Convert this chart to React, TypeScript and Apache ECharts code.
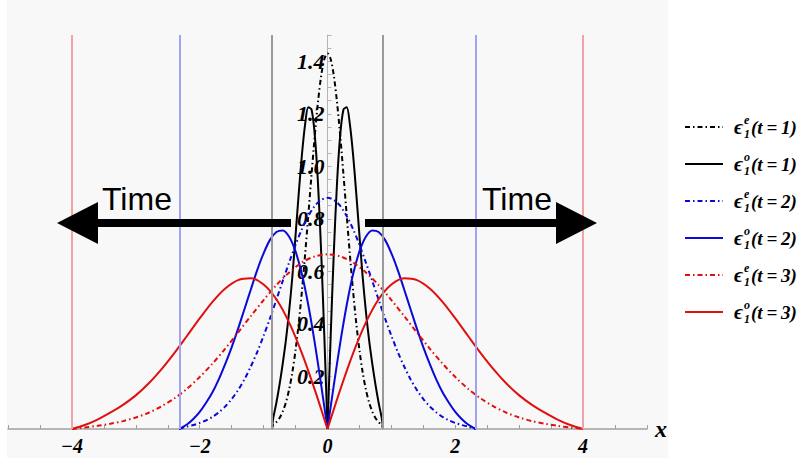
import { useEffect, useRef } from 'react';
import * as echarts from 'echarts';

// x grids (data units)
const xBlack = [-0.87, -0.85, -0.8, -0.75, -0.7, -0.65, -0.6, -0.55, -0.5, -0.45, -0.4, -0.35, -0.3, -0.25, -0.2, -0.15, -0.1, -0.05, 0, 0.05, 0.1, 0.15, 0.2, 0.25, 0.3, 0.35, 0.4, 0.45, 0.5, 0.55, 0.6, 0.65, 0.7, 0.75, 0.8, 0.85, 0.87];
const xBlue = [-2.32, -2.2, -2.1, -2, -1.9, -1.8, -1.7, -1.6, -1.5, -1.4, -1.3, -1.2, -1.1, -1, -0.9, -0.8, -0.7, -0.6, -0.5, -0.4, -0.3, -0.2, -0.1, 0, 0.1, 0.2, 0.3, 0.4, 0.5, 0.6, 0.7, 0.8, 0.9, 1, 1.1, 1.2, 1.3, 1.4, 1.5, 1.6, 1.7, 1.8, 1.9, 2, 2.1, 2.2, 2.32];
const xRed = [-4, -3.8, -3.6, -3.4, -3.2, -3, -2.8, -2.6, -2.4, -2.2, -2, -1.8, -1.6, -1.4, -1.2, -1, -0.8, -0.6, -0.4, -0.2, 0, 0.2, 0.4, 0.6, 0.8, 1, 1.2, 1.4, 1.6, 1.8, 2, 2.2, 2.4, 2.6, 2.8, 3, 3.2, 3.4, 3.6, 3.8, 4];

// series values
const evenT1 = [0, 0.016, 0.026, 0.042, 0.067, 0.102, 0.151, 0.216, 0.3, 0.403, 0.526, 0.665, 0.815, 0.968, 1.114, 1.242, 1.343, 1.408, 1.43, 1.408, 1.343, 1.242, 1.114, 0.968, 0.815, 0.665, 0.526, 0.403, 0.3, 0.216, 0.151, 0.102, 0.067, 0.042, 0.026, 0.016, 0];
const oddT1 = [0, 0.04, 0.1, 0.17, 0.25, 0.34, 0.45, 0.58, 0.737, 0.897, 1.045, 1.161, 1.225, 1.216, 1.122, 0.941, 0.679, 0.356, 0, 0.356, 0.679, 0.941, 1.122, 1.216, 1.225, 1.161, 1.045, 0.897, 0.737, 0.58, 0.45, 0.34, 0.25, 0.17, 0.1, 0.04, 0];
const evenT2 = [0, 0.009, 0.015, 0.023, 0.033, 0.046, 0.064, 0.086, 0.114, 0.148, 0.189, 0.238, 0.293, 0.355, 0.421, 0.492, 0.564, 0.634, 0.701, 0.761, 0.811, 0.849, 0.872, 0.88, 0.872, 0.849, 0.811, 0.761, 0.701, 0.634, 0.564, 0.492, 0.421, 0.355, 0.293, 0.238, 0.189, 0.148, 0.114, 0.086, 0.064, 0.046, 0.033, 0.023, 0.015, 0.009, 0];
const oddT2 = [0, 0.017, 0.038, 0.065, 0.1, 0.14, 0.19, 0.248, 0.311, 0.381, 0.456, 0.531, 0.605, 0.669, 0.72, 0.75, 0.756, 0.732, 0.676, 0.589, 0.471, 0.329, 0.169, 0, 0.169, 0.329, 0.471, 0.589, 0.676, 0.732, 0.756, 0.75, 0.72, 0.669, 0.605, 0.531, 0.456, 0.381, 0.311, 0.248, 0.19, 0.14, 0.1, 0.065, 0.038, 0.017, 0];
const evenT3 = [0, 0.006, 0.012, 0.02, 0.03, 0.044, 0.062, 0.086, 0.116, 0.153, 0.198, 0.249, 0.306, 0.367, 0.43, 0.491, 0.548, 0.596, 0.634, 0.657, 0.665, 0.657, 0.634, 0.596, 0.548, 0.491, 0.43, 0.367, 0.306, 0.249, 0.198, 0.153, 0.116, 0.086, 0.062, 0.044, 0.03, 0.02, 0.012, 0.006, 0];
const oddT3 = [0, 0.015, 0.036, 0.062, 0.092, 0.128, 0.173, 0.227, 0.288, 0.354, 0.421, 0.484, 0.535, 0.567, 0.574, 0.55, 0.494, 0.405, 0.288, 0.15, 0, 0.15, 0.288, 0.405, 0.494, 0.55, 0.574, 0.567, 0.535, 0.484, 0.421, 0.354, 0.288, 0.227, 0.173, 0.128, 0.092, 0.062, 0.036, 0.015, 0];

// vertical boundary lines
const wallX = [-4, -2.32, -0.87, 0.87, 2.32, 4];
const wallColors = ['#f3a3a6', '#a3a3f3', '#9a9a9a', '#9a9a9a', '#a3a3f3', '#f3a3a6'];

// legend entries
const seriesNames = ['e1', 'o1', 'e2', 'o2', 'e3', 'o3'];
const legendSup = ['e', 'o', 'e', 'o', 'e', 'o'];
const legendT = ['1', '1', '2', '2', '3', '3'];

const SERIF = 'Liberation Serif';
const ICON_SOLID = 'path://M0,0H38V2H0Z';
const ICON_DASHDOT = 'path://M0,0H5V2H0Z M8,0H9.5V2H8Z M12.5,0H17.5V2H12.5Z M20.5,0H22V2H20.5Z M25,0H30V2H25Z M33,0H34.5V2H33Z M37.5,0H38V2H37.5Z';

export default function App() {
  const ref = useRef<HTMLDivElement>(null);
  useEffect(() => {
    if (!ref.current) return;
    const chart = echarts.init(ref.current, undefined, { renderer: 'svg' });
    const pair = (xs: number[], ys: number[]) => xs.map((x, i) => [x, ys[i]]);
    const dashDot = [5, 3, 1.5, 3];
    const base = (name: string, data: number[][], color: string, dashed: boolean) => ({
      type: 'line',
      name,
      data,
      symbol: 'none',
      smooth: 0.3,
      z: 3,
      lineStyle: { color, width: 2, type: dashed ? dashDot : 'solid' },
      itemStyle: { color },
    });
    const even = (name: string, xs: number[], ys: number[], color: string) => [base(name, pair(xs, ys), color, true)];
    // odd curves have a sharp V at x = 0: draw each side as its own smooth piece
    const odd = (name: string, xs: number[], ys: number[], color: string) => {
      const pts = pair(xs, ys);
      return [
        base(name, pts.filter((p) => p[0] <= 0), color, false),
        base(name, pts.filter((p) => p[0] >= 0), color, false),
      ];
    };
    const timeFont = '32px "Liberation Sans", Arial, sans-serif';
    const option: any = {
      animation: false,
      backgroundColor: '#ffffff',
      graphic: [
        { type: 'rect', z: -100, silent: true, shape: { x: 7, y: 0, width: 661, height: 458 }, style: { fill: '#f8f8f8' } },
        { type: 'polygon', z: 50, shape: { points: [[57, 223], [98, 202], [98, 219], [291, 219], [291, 227], [98, 227], [98, 244]] }, style: { fill: '#000' } },
        { type: 'polygon', z: 50, shape: { points: [[597, 223], [556, 202], [556, 219], [365, 219], [365, 227], [556, 227], [556, 244]] }, style: { fill: '#000' } },
        { type: 'text', z: 50, x: 102, y: 199, style: { text: 'Time', font: timeFont, fill: '#000', align: 'left', verticalAlign: 'middle' } },
        { type: 'text', z: 50, x: 482, y: 199, style: { text: 'Time', font: timeFont, fill: '#000', align: 'left', verticalAlign: 'middle' } },
      ],
      grid: { left: 8, top: 35, width: 639, height: 394, containLabel: false, outerBoundsMode: 'none' },
      xAxis: {
        type: 'value', min: -5, max: 5, interval: 0.5,
        name: 'x', nameLocation: 'end', nameGap: 8,
        nameTextStyle: { fontFamily: SERIF, fontStyle: 'italic', fontWeight: 'bold', fontSize: 24, color: '#000' },
        axisLine: { show: true, onZero: false, lineStyle: { color: '#a0a0a0', width: 1.5 } },
        axisTick: { show: true, inside: true, length: 4, lineStyle: { color: '#a0a0a0' } },
        axisLabel: {
          interval: 0, margin: 7, color: '#000', fontFamily: SERIF, fontStyle: 'italic', fontWeight: 'bold', fontSize: 20, lineHeight: 20,
          formatter: (v: number) => {
            const r = Math.round(v);
            if (Math.abs(v - r) > 1e-6 || r % 2 !== 0) return '';
            return r < 0 ? '\u2212' + (-r) : String(r);
          },
        },
        splitLine: { show: false },
      },
      yAxis: {
        type: 'value', min: 0, max: 1.5, interval: 0.05,
        position: 'left',
        offset: -319.5,
        axisLine: { show: true, onZero: false, lineStyle: { color: '#b5b5b5', width: 1 } },
        axisTick: { show: true, inside: true, length: 4, lineStyle: { color: '#b5b5b5' } },
        axisLabel: {
          interval: 0, margin: 3, color: '#000', fontFamily: SERIF, fontStyle: 'italic', fontWeight: 'bold', fontSize: 22,
          formatter: (v: number) => {
            const k = Math.round(v / 0.2);
            if (Math.abs(v - k * 0.2) > 1e-6 || k === 0) return '';
            return (k * 0.2).toFixed(1);
          },
        },
        splitLine: { show: false },
      },
      legend: {
        data: seriesNames.map((n, i) => ({ name: n, icon: legendSup[i] === 'e' ? ICON_DASHDOT : ICON_SOLID })),
        orient: 'vertical',
        left: 680,
        top: 109,
        itemWidth: 38,
        itemHeight: 2,
        itemGap: 11,
        selectedMode: false,
        formatter: (name: string) => {
          const i = seriesNames.indexOf(name);
          return `{eps|\u03F5}{sup|${legendSup[i]}}{sub|1}{txt|(t\u2009=\u2009${legendT[i]})}`;
        },
        textStyle: {
          color: '#000', fontFamily: SERIF, fontStyle: 'italic', fontWeight: 'bold', fontSize: 19,
          rich: {
            eps: { fontFamily: SERIF, fontStyle: 'italic', fontWeight: 'bold', fontSize: 21, lineHeight: 26, padding: [0, 1, 0, 6], color: '#000' },
            sup: { fontFamily: SERIF, fontStyle: 'italic', fontWeight: 'bold', fontSize: 12, lineHeight: 12, width: 0, verticalAlign: 'top', color: '#000' },
            sub: { fontFamily: SERIF, fontStyle: 'italic', fontWeight: 'bold', fontSize: 12, lineHeight: 12, verticalAlign: 'bottom', color: '#000' },
            txt: { fontFamily: SERIF, fontStyle: 'italic', fontWeight: 'bold', fontSize: 19, lineHeight: 26, padding: [0, 0, 0, 1], color: '#000' },
          },
        },
      },
      series: [
        {
          type: 'line', name: 'walls', data: [], silent: true, z: 1,
          markLine: {
            silent: true, symbol: ['none', 'none'], label: { show: false },
            data: wallX.map((x, i) => ({ xAxis: x, lineStyle: { color: wallColors[i], width: 2, type: 'solid' } })),
          },
        },
        ...even('e1', xBlack, evenT1, '#000000'),
        ...odd('o1', xBlack, oddT1, '#000000'),
        ...even('e2', xBlue, evenT2, '#0a0ad8'),
        ...odd('o2', xBlue, oddT2, '#0a0ad8'),
        ...even('e3', xRed, evenT3, '#e01010'),
        ...odd('o3', xRed, oddT3, '#e01010'),
      ],
    };
    chart.setOption(option);
    return () => chart.dispose();
  }, []);
  return <div ref={ref} style={{ position: 'absolute', left: 0, top: 0, width: 806, height: 458 }} />;
}
